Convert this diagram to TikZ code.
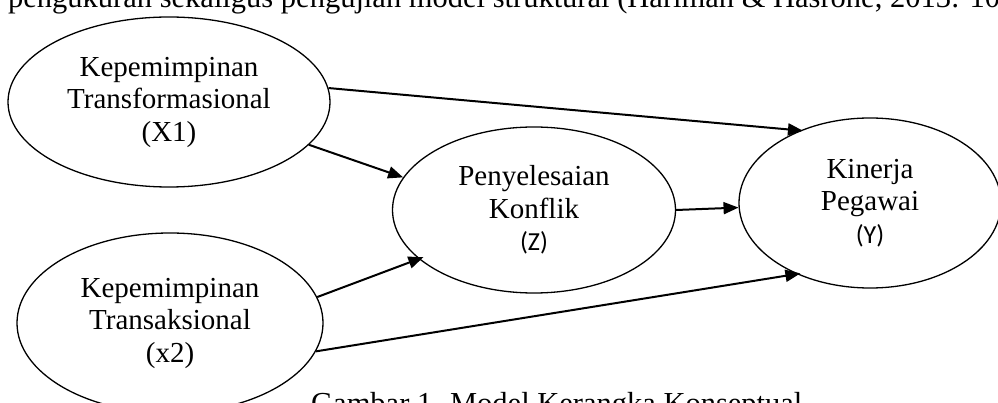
\documentclass[tikz,border=0pt]{standalone}
\usepackage{fontspec}
\setmainfont{Liberation Serif}
\newfontfamily\carlitofont{Carlito}
\usetikzlibrary{shapes.geometric,arrows.meta}
\begin{document}
\begin{tikzpicture}[x=1pt,y=-1pt,
  var/.style={ellipse,draw,line width=1.3pt,inner sep=0pt,align=center,font=\fontsize{29}{32.5}\selectfont},
  link/.style={line width=2pt,-{Triangle[length=15pt,width=12pt]}},
  body/.style={inner sep=0pt,font=\fontsize{30.5}{36}\selectfont}]
\useasboundingbox (0,0) rectangle (998,403);
\clip (0,0) rectangle (998,403);
\node[var,minimum width=322pt,minimum height=170pt] (x1) at (169,102) {Kepemimpinan\\Transformasional\\(X1)};
\node[var,minimum width=306pt,minimum height=180pt] (x2) at (170,323) {Kepemimpinan\\Transaksional\\(x2)};
\node[var,minimum width=283pt,minimum height=166pt] (z) at (534,210) {Penyelesaian\\Konflik\\{\carlitofont\fontsize{26}{32}\selectfont (Z)}};
\node[var,minimum width=262pt,minimum height=170pt] (y) at (870,203) {Kinerja\\Pegawai\\{\carlitofont\fontsize{26}{32}\selectfont (Y)}};
\draw[link,shorten >=-3pt] (x1.5) -- (y.134);
\draw[link] (x1.-17) -- (z.166);
\draw[link,shorten >=-5pt] (x2.10) -- (z.-157);
\draw[link,shorten >=-4pt] (x2.-11.5) -- (y.224);
\draw[link] (z.0) -- (y.182);
\node[body,anchor=base west] (top) at (8,8) {pengukuran sekaligus pengujian model struktural (Hariman \& Hasrone, 2013: 10};
\node[body,anchor=base west] (cap) at (311,413) {Gambar 1. Model Kerangka Konseptual};
\end{tikzpicture}
\end{document}
